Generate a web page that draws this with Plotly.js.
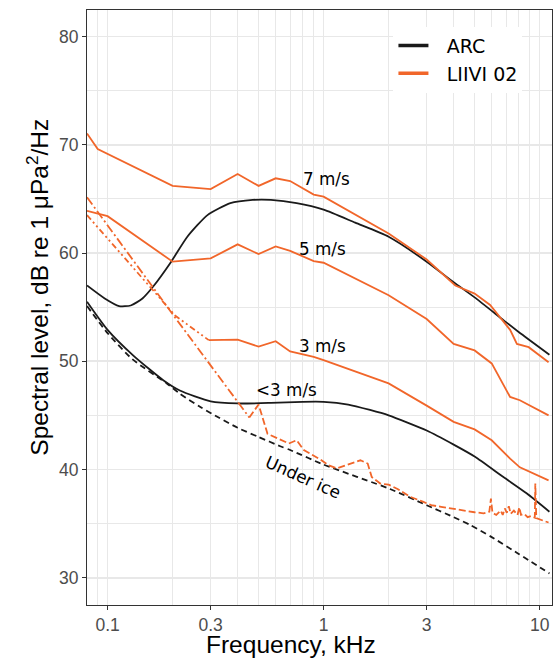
<!DOCTYPE html>
<html>
<head>
<meta charset="utf-8">
<script src="https://cdn.plot.ly/plotly-3.0.1.min.js"></script>
<style>
  html, body { margin: 0; padding: 0; background: white; }
</style>
</head>
<body>
<div id="chart" style="width:554px;height:663px;"></div>
<script>
// ARC model curves (black)
var arcHighFreq  = [0.0803, 0.097, 0.113, 0.128, 0.145, 0.164, 0.197, 0.234, 0.29, 0.37, 0.47, 0.57, 0.75, 1.0, 1.4, 2.0, 3.0, 4.0, 5.0, 6.8, 8.0, 11.1];
var arcHighLevel = [57.0, 55.8, 55.1, 55.15, 55.8, 57.0, 59.2, 61.5, 63.5, 64.6, 64.9, 64.9, 64.6, 64.0, 62.8, 61.5, 59.2, 57.3, 55.9, 53.8, 52.7, 50.6];

var arcLowFreq  = [0.0803, 0.1, 0.132, 0.181, 0.216, 0.3, 0.4, 0.57, 0.8, 1.0, 1.3, 1.64, 2.0, 3.0, 4.0, 5.0, 6.8, 8.7, 11.1];
var arcLowLevel = [55.5, 52.9, 50.5, 48.25, 47.3, 46.3, 46.1, 46.15, 46.25, 46.25, 46.0, 45.5, 45.0, 43.6, 42.3, 41.2, 39.3, 37.8, 36.1];

var iceFreq  = [0.0803, 0.1, 0.13, 0.188, 0.216, 0.27, 0.33, 0.4, 0.5, 0.63, 0.7, 1.0, 2.03, 3.0, 4.0, 4.8, 6.0, 8.0, 11.1];
var iceLevel = [55.1, 52.6, 50.2, 47.95, 47.0, 45.75, 44.75, 43.85, 43.0, 42.15, 41.8, 40.45, 38.2, 36.7, 35.6, 34.85, 33.75, 32.2, 30.4];

// LIIVI 02 measurements (orange)
var wind7Freq  = [0.0803, 0.09, 0.2, 0.3, 0.4, 0.5, 0.6, 0.7, 0.9, 1.0, 2.0, 3.0, 4.07, 5.0, 5.9, 7.3, 7.85, 8.9, 11.0];
var wind7Level = [71.05, 69.6, 66.2, 65.9, 67.3, 66.2, 66.9, 66.65, 65.4, 65.2, 61.8, 59.4, 57.0, 56.25, 55.2, 52.9, 51.6, 51.3, 49.9];

var wind5Freq  = [0.0803, 0.1, 0.2, 0.3, 0.4, 0.5, 0.6, 0.7, 0.9, 1.0, 2.0, 3.0, 4.0, 5.0, 6.0, 7.3, 8.1, 11.0];
var wind5Level = [63.9, 63.4, 59.2, 59.5, 60.8, 59.9, 60.6, 60.2, 59.25, 59.1, 56.1, 53.9, 51.6, 51.0, 49.8, 46.7, 46.4, 45.0];

var wind3LowFreq  = [0.0803, 0.206, 0.294];
var wind3LowLevel = [63.5, 54.2, 51.95];
var wind3Freq  = [0.294, 0.4, 0.5, 0.6, 0.7, 0.9, 1.0, 2.0, 3.0, 4.0, 5.0, 6.0, 7.3, 8.1, 11.0];
var wind3Level = [51.95, 52.0, 51.35, 51.85, 50.9, 50.4, 50.1, 47.95, 45.9, 44.4, 43.7, 42.7, 41.0, 40.2, 39.0];

var calmLowFreq  = [0.0803, 0.206, 0.453];
var calmLowLevel = [65.15, 54.0, 44.8];
var calmFreq  = [0.453, 0.5, 0.55, 0.61, 0.69, 0.75, 0.81, 0.97, 1.05, 1.15, 1.33, 1.48, 1.6, 1.67, 1.83, 2.0, 2.2, 2.5, 2.9, 3.15,
                 3.5, 3.85, 4.2, 4.5, 5.0, 5.5, 5.85, 5.95, 6.05, 6.3, 6.6, 6.75, 6.9, 7.05, 7.2, 7.35, 7.6, 7.9, 8.05, 8.2,
                 8.5, 8.8, 9.1, 9.5, 9.55, 9.65, 10.2, 11.0];
var calmLevel = [44.8, 46.0, 43.3, 42.9, 42.4, 42.7, 41.8, 40.9, 40.4, 40.1, 40.55, 40.85, 40.55, 39.3, 38.7, 38.6, 38.2, 37.5, 37.0, 36.7,
                 36.55, 36.4, 36.3, 36.2, 36.05, 35.95, 36.1, 37.3, 36.0, 35.8, 36.2, 35.8, 36.4, 36.0, 36.6, 35.9, 36.2, 35.8, 36.5, 35.8,
                 35.9, 35.6, 35.7, 35.55, 38.7, 35.5, 35.3, 35.1];

// labels
var labelText  = ["7 m/s", "5 m/s", "3 m/s", "<3 m/s", "Under ice"];
var labelFreq  = [1.03, 0.986, 0.986, 0.671, 0.80];
var labelLevel = [66.85, 60.35, 51.45, 47.3, 39.3];
var labelAngle = [0, 0, 0, 0, 24];

var xTitle = "Frequency, kHz";
var yTitle = "Spectral level, dB re 1 \u03bcPa<sup>2</sup>/Hz";

var xMajor = [0.1, 0.3, 1, 3, 10];
var xMajorText = ["0.1", "0.3", "1", "3", "10"];
var xMinor = [0.08, 0.09, 0.2, 0.4, 0.5, 0.6, 0.7, 0.8, 0.9, 2, 4, 5, 6, 7, 8, 9];

var black = "#1a1a1a";
var orange = "#f1662a";

function line(x, y, color, dash) {
  return {
    type: "scatter", mode: "lines", x: x, y: y,
    line: {color: color, width: 1.8, dash: dash},
    showlegend: false, hoverinfo: "skip"
  };
}

var data = [
  // legend entries
  {type: "scatter", mode: "lines", x: [null], y: [null], name: "\u2002\u2009ARC",
   line: {color: black, width: 3.5}, showlegend: true, hoverinfo: "skip"},
  {type: "scatter", mode: "lines", x: [null], y: [null], name: "\u2002\u2009LIIVI 02",
   line: {color: orange, width: 3.5}, showlegend: true, hoverinfo: "skip"},

  line(iceFreq, iceLevel, black, "6px,4px"),
  line(arcLowFreq, arcLowLevel, black, "solid"),
  line(arcHighFreq, arcHighLevel, black, "solid"),

  line(wind7Freq, wind7Level, orange, "solid"),
  line(wind5Freq, wind5Level, orange, "solid"),
  line(wind3LowFreq, wind3LowLevel, orange, "6px,3px,2px,3px,2px,3px"),
  line(wind3Freq, wind3Level, orange, "solid"),
  line(calmLowFreq, calmLowLevel, orange, "9px,3px,2px,3px"),
  line(calmFreq, calmLevel, orange, "7px,3px")
];
[2, 3, 4].forEach(function (i) { data[i].line.shape = "spline"; data[i].line.smoothing = 0.6; });

var annotations = labelText.map(function (t, i) {
  return {
    x: Math.log10(labelFreq[i]), y: labelLevel[i], xref: "x", yref: "y",
    text: t, showarrow: false, textangle: labelAngle[i],
    font: {family: "DejaVu Sans", size: 16.8, color: "black"}
  };
});
// axis titles
annotations.push({
  xref: "paper", yref: "paper", x: 0.4394, y: -0.066, xanchor: "center", yanchor: "middle",
  text: xTitle, showarrow: false, font: {size: 24.5, color: "black"}
});
annotations.push({
  xref: "paper", yref: "paper", x: -0.1067, y: 0.534, xanchor: "center", yanchor: "middle",
  text: yTitle, showarrow: false, textangle: -90, font: {size: 24.5, color: "black"}
});

var gridCol = "#e8e8e8";
var layout = {
  width: 554,
  height: 663,
  margin: {l: 87, r: 2, t: 10, b: 58},
  paper_bgcolor: "white",
  plot_bgcolor: "white",
  font: {family: "Liberation Sans, Arial, sans-serif", color: "black"},
  xaxis: {
    type: "log",
    range: [Math.log10(0.0803), Math.log10(11.41)],
    tickmode: "array", tickvals: xMajor, ticktext: xMajorText,
    showgrid: true, gridcolor: gridCol, gridwidth: 1.6,
    minor: {tickmode: "array", tickvals: xMinor, showgrid: true, gridcolor: gridCol, gridwidth: 1.1, ticks: ""},
    ticks: "outside", ticklen: 4, tickcolor: "#333", tickwidth: 1,
    tickfont: {size: 17.5, color: "#4d4d4d"},
    showline: true, linecolor: "#333", linewidth: 1, mirror: true,
    zeroline: false
  },
  yaxis: {
    range: [27.48, 82.45],
    tickmode: "linear", tick0: 30, dtick: 10,
    showgrid: true, gridcolor: gridCol, gridwidth: 1.6,
    minor: {tick0: 25, dtick: 5, showgrid: true, gridcolor: gridCol, gridwidth: 1.1, ticks: ""},
    ticks: "outside", ticklen: 4, tickcolor: "#333", tickwidth: 1,
    tickfont: {size: 17.5, color: "#4d4d4d"},
    showline: true, linecolor: "#333", linewidth: 1, mirror: true,
    zeroline: false
  },
  legend: {
    x: 0.659, xanchor: "left", y: 0.972, yanchor: "top",
    bgcolor: "white", borderwidth: 0,
    font: {family: "DejaVu Sans", size: 19, color: "black"}
  },
  annotations: annotations,
  showlegend: true
};

Plotly.newPlot("chart", data, layout, {displayModeBar: false, staticPlot: true});
</script>
</body>
</html>
